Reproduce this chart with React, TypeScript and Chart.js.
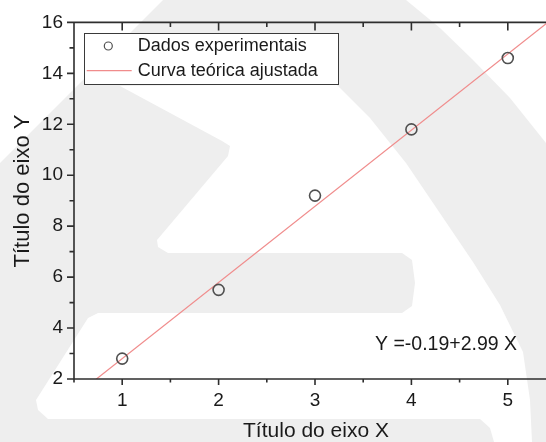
import React, { useEffect, useRef } from "react";
import { Chart, registerables } from "chart.js";

Chart.register(...registerables);

// ---- data ----
const X_VALUES = [1, 2, 3, 4, 5];
const Y_VALUES = [2.8, 5.5, 9.2, 11.8, 14.6];
const FIT_INTERCEPT = -0.19;
const FIT_SLOPE = 2.99;
const X_RANGE = [0.5, 5.5];
const Y_RANGE = [2, 16];
const X_TICKS = [1, 2, 3, 4, 5];
const Y_TICKS = [2, 4, 6, 8, 10, 12, 14, 16];
const SERIES_LABELS = ["Dados experimentais", "Curva teórica ajustada"];
const X_TITLE = "Título do eixo X";
const Y_TITLE = "Título do eixo Y";
const EQUATION = "Y =-0.19+2.99 X";

const FONT = "'Liberation Sans', Arial, sans-serif";
const TEXT = "#1a1a1a";
const AXIS = "#2e2e2e";
const MARK = "#505050";
const FIT_COLOR = "#f08c8c";
const WM = "#eeeeee";

const TOP_LEFT_WHITE = [[0, 0], [163, 0], [0, 163]];
const TOP_RIGHT_WHITE = [[406, 0], [440, 28], [473, 60], [510, 98], [546, 143], [600, 215], [600, 0]];
const CENTER_WHITE = [
  [120, 86], [336, 84], [370, 118], [406, 163], [473, 262], [500, 305], [523, 352], [530, 400], [532, 442],
  [494, 442], [490, 428], [480, 419], [48, 419], [38, 410], [36, 400], [88, 318], [98, 313],
  [402, 313], [412, 306], [415, 283], [412, 260], [402, 253], [168, 253], [158, 247], [157, 240],
  [228, 156], [230, 146], [222, 141],
];

function poly(ctx: CanvasRenderingContext2D, pts: number[][], color: string) {
  ctx.beginPath();
  pts.forEach((p, i) => (i ? ctx.lineTo(p[0], p[1]) : ctx.moveTo(p[0], p[1])));
  ctx.closePath();
  ctx.fillStyle = color;
  ctx.fill();
}

function minors(ticks: number[]) {
  const step = ticks[1] - ticks[0];
  const out = [ticks[0] - step / 2];
  ticks.forEach((t) => out.push(t + step / 2));
  return out;
}

const decor = {
  id: "decor",
  beforeDraw(chart: any) {
    const ctx = chart.ctx as CanvasRenderingContext2D;
    ctx.save();
    ctx.fillStyle = WM;
    ctx.fillRect(0, 0, chart.width, chart.height);
    poly(ctx, TOP_LEFT_WHITE, "#ffffff");
    poly(ctx, TOP_RIGHT_WHITE, "#ffffff");
    poly(ctx, CENTER_WHITE, "#ffffff");
    ctx.restore();
  },
  afterDraw(chart: any) {
    const ctx = chart.ctx as CanvasRenderingContext2D;
    const { left, right, top, bottom } = chart.chartArea;
    const xs = chart.scales.x;
    const ys = chart.scales.y;
    ctx.save();
    ctx.strokeStyle = AXIS;
    ctx.lineWidth = 1.6;
    ctx.beginPath();
    ctx.moveTo(left, top);
    ctx.lineTo(right, top);
    ctx.moveTo(left, bottom);
    ctx.lineTo(right, bottom);
    ctx.moveTo(left, top - 0.8);
    ctx.lineTo(left, bottom + 0.8);
    ctx.moveTo(right, top);
    ctx.lineTo(right, bottom);
    X_TICKS.forEach((v) => {
      const p = xs.getPixelForValue(v);
      ctx.moveTo(p, bottom);
      ctx.lineTo(p, bottom + 6);
      ctx.moveTo(p, top);
      ctx.lineTo(p, top + 8);
    });
    minors(X_TICKS).forEach((v) => {
      const p = xs.getPixelForValue(v);
      ctx.moveTo(p, bottom);
      ctx.lineTo(p, bottom + 3.5);
      ctx.moveTo(p, top);
      ctx.lineTo(p, top + 4.5);
    });
    Y_TICKS.forEach((v) => {
      const p = ys.getPixelForValue(v);
      ctx.moveTo(left, p);
      ctx.lineTo(left - 7, p);
    });
    minors(Y_TICKS).forEach((v) => {
      if (v < Y_RANGE[0] || v > Y_RANGE[1]) return;
      const p = ys.getPixelForValue(v);
      ctx.moveTo(left, p);
      ctx.lineTo(left - 4.5, p);
    });
    ctx.stroke();

    // legend
    ctx.fillStyle = "#ffffff";
    ctx.fillRect(84.5, 33.5, 254, 51);
    ctx.strokeStyle = "#3a3a3a";
    ctx.lineWidth = 1;
    ctx.strokeRect(84.5, 33.5, 254, 51);
    ctx.beginPath();
    ctx.arc(108.3, 46, 4, 0, Math.PI * 2);
    ctx.strokeStyle = MARK;
    ctx.lineWidth = 1.2;
    ctx.stroke();
    ctx.beginPath();
    ctx.moveTo(86.7, 70.7);
    ctx.lineTo(131.7, 70.7);
    ctx.strokeStyle = FIT_COLOR;
    ctx.lineWidth = 1.2;
    ctx.stroke();
    ctx.fillStyle = TEXT;
    ctx.textBaseline = "middle";
    ctx.textAlign = "left";
    ctx.font = `18px ${FONT}`;
    ctx.fillText(chart.data.datasets[0].label, 137.7, 46.5);
    ctx.fillText(chart.data.datasets[1].label, 137.7, 71);

    // equation
    ctx.font = `19.5px ${FONT}`;
    ctx.fillText(EQUATION, 375, 345);

    // titles
    ctx.font = `21px ${FONT}`;
    ctx.textAlign = "center";
    ctx.fillText(X_TITLE, 316, 431);
    ctx.font = `22px ${FONT}`;
    ctx.translate(22.5, 191);
    ctx.rotate(-Math.PI / 2);
    ctx.fillText(Y_TITLE, 0, 0);
    ctx.restore();
  },
};

export default function App() {
  const ref = useRef<HTMLCanvasElement | null>(null);
  useEffect(() => {
    if (!ref.current) return;
    const points = X_VALUES.map((x, i) => ({ x, y: Y_VALUES[i] }));
    const fit = X_RANGE.map((x) => ({ x, y: FIT_INTERCEPT + FIT_SLOPE * x }));
    const tickFont = { family: FONT, size: 19 };
    const chart = new Chart(ref.current, {
      type: "scatter",
      data: {
        datasets: [
          {
            label: SERIES_LABELS[0],
            data: points,
            pointRadius: 5.5,
            pointBorderWidth: 1.6,
            pointBorderColor: MARK,
            pointBackgroundColor: "rgba(0,0,0,0)",
            showLine: false,
            order: 1,
          },
          {
            label: SERIES_LABELS[1],
            type: "line",
            data: fit,
            borderColor: FIT_COLOR,
            borderWidth: 1.2,
            pointRadius: 0,
            fill: false,
            order: 2,
          },
        ],
      } as any,
      options: {
        animation: false,
        responsive: false,
        devicePixelRatio: 1,
        layout: { padding: { top: 22, right: 44, left: 0, bottom: 0 } },
        plugins: { legend: { display: false }, tooltip: { enabled: false } },
        scales: {
          x: {
            type: "linear",
            min: X_RANGE[0],
            max: X_RANGE[1],
            afterBuildTicks: (s: any) => {
              s.ticks = X_TICKS.map((v) => ({ value: v }));
            },
            afterFit: (s: any) => {
              s.height = 63;
            },
            grid: { display: false, drawTicks: false },
            border: { display: false },
            ticks: { font: tickFont, color: TEXT, padding: 10, maxRotation: 0, autoSkip: false },
          },
          y: {
            type: "linear",
            min: Y_RANGE[0],
            max: Y_RANGE[1],
            afterBuildTicks: (s: any) => {
              s.ticks = Y_TICKS.map((v) => ({ value: v }));
            },
            afterFit: (s: any) => {
              s.width = 74;
            },
            grid: { display: false, drawTicks: false },
            border: { display: false },
            ticks: { font: tickFont, color: TEXT, padding: 11, autoSkip: false },
          },
        },
      } as any,
      plugins: [decor],
    });
    return () => chart.destroy();
  }, []);
  return (
    <div
      style={{
        position: "fixed",
        left: 0,
        top: 0,
        width: 546,
        height: 442,
        overflow: "hidden",
        background: "#fff",
      }}
    >
      <canvas ref={ref} width={600} height={442} style={{ display: "block", width: 600, height: 442 }} />
    </div>
  );
}
